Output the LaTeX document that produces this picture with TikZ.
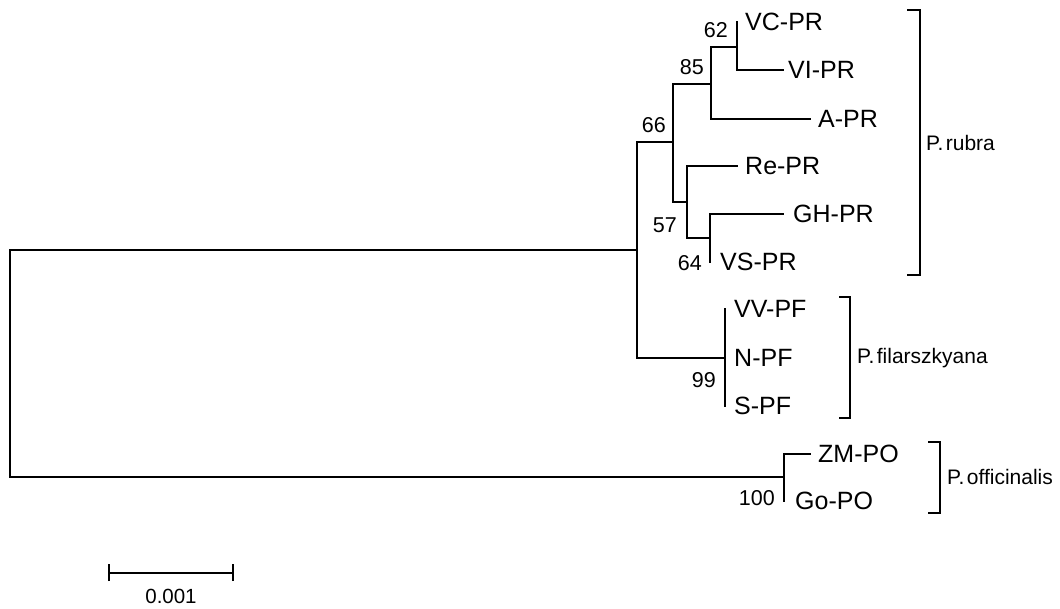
\documentclass[tikz,border=0pt]{standalone}
\usepackage{fontspec}
\setmainfont{Liberation Sans}
\begin{document}
\begin{tikzpicture}[x=1pt,y=-1pt,
  branch/.style={line width=2.2pt, line cap=rect},
  brack/.style={line width=2.6pt},
  taxon/.style={anchor=west, inner sep=0pt, font=\fontsize{25}{30}\selectfont},
  boot/.style={anchor=east, inner sep=0pt, font=\fontsize{21.5}{26}\selectfont},
  clade/.style={anchor=west, inner sep=0pt, font=\fontsize{21}{25}\selectfont}]
\useasboundingbox (0,0) rectangle (1060,608);
% internal nodes
\coordinate (root) at (10,363);
\coordinate (nIn) at (637,250);
\coordinate (n66) at (673,142);
\coordinate (n85) at (711,84);
\coordinate (n62) at (737,47);
\coordinate (n57) at (687,202);
\coordinate (n64) at (710,238);
\coordinate (nPF) at (725,358);
\coordinate (nPO) at (784,477);
% tips
\coordinate (VC) at (737,22);
\coordinate (VI) at (783,70);
\coordinate (A) at (810,119);
\coordinate (Re) at (737,166);
\coordinate (GH) at (783,214);
\coordinate (VS) at (710,262);
\coordinate (VV) at (725,309);
\coordinate (N) at (725,358);
\coordinate (S) at (725,406);
\coordinate (ZM) at (810,454);
\coordinate (Go) at (784,501);
% branches
\draw[branch] (VC) -| (n62) |- (VI);
\draw[branch] (n62) -| (n85) |- (A);
\draw[branch] (GH) -| (n64) |- (VS);
\draw[branch] (Re) -| (n57) |- (n64);
\draw[branch] (n85) -| (n66) |- (n57);
\draw[branch] (n66) -| (nIn) |- (nPF);
\draw[branch] (VV) -- (S);
\draw[branch] (ZM) -| (nPO) |- (Go);
\draw[branch] (nIn) -| (root) |- (nPO);
% taxon labels
\node[taxon] (tVC) at ([xshift=8pt]VC) {VC-PR};
\node[taxon] (tVI) at ([xshift=5pt]VI) {VI-PR};
\node[taxon] (tA) at ([xshift=8pt]A) {A-PR};
\node[taxon] (tRe) at ([xshift=8pt]Re) {Re-PR};
\node[taxon] (tGH) at ([xshift=10pt]GH) {GH-PR};
\node[taxon] (tVS) at ([xshift=10pt]VS) {VS-PR};
\node[taxon] (tVV) at ([xshift=9pt]VV) {VV-PF};
\node[taxon] (tN) at ([xshift=9pt]N) {N-PF};
\node[taxon] (tS) at ([xshift=9pt]S) {S-PF};
\node[taxon] (tZM) at ([xshift=8pt]ZM) {ZM-PO};
\node[taxon] (tGo) at ([xshift=11pt]Go) {Go-PO};
% bootstrap values
\node[boot] (b62) at (728,30) {62};
\node[boot] (b85) at (704,67) {85};
\node[boot] (b66) at (666,125) {66};
\node[boot] (b57) at (677,225) {57};
\node[boot] (b64) at (702,263) {64};
\node[boot] (b99) at (716,380) {99};
\node[boot] (b100) at (775,498) {100};
% brackets
\coordinate (brT1) at (907,10); \coordinate (brB1) at (907,275);
\draw[brack] (brT1) -| (920,275) -- (brB1);
\node[clade] (cPR) at (926,143) {P.\hspace{0.12em}rubra};
\coordinate (brT2) at (839,297); \coordinate (brB2) at (839,418);
\draw[brack] (brT2) -| (850,418) -- (brB2);
\node[clade] (cPF) at (857,358) {P.\hspace{0.12em}filarszkyana};
\coordinate (brT3) at (928,442); \coordinate (brB3) at (928,513);
\draw[brack] (brT3) -| (940,513) -- (brB3);
\node[clade] (cPO) at (947,477) {P.\hspace{0.12em}officinalis};
% scale bar
\coordinate (sL) at (109,573); \coordinate (sR) at (233,573);
\draw[branch, line cap=butt] (sL) -- (sR);
\draw[branch, line cap=butt] ([yshift=-8pt]sL) -- ([yshift=9pt]sL);
\draw[branch, line cap=butt] ([yshift=-8pt]sR) -- ([yshift=9pt]sR);
\node[font=\fontsize{20.5}{25}\selectfont, inner sep=0pt] (sLab) at (171,596) {0.001};
\end{tikzpicture}
\end{document}
